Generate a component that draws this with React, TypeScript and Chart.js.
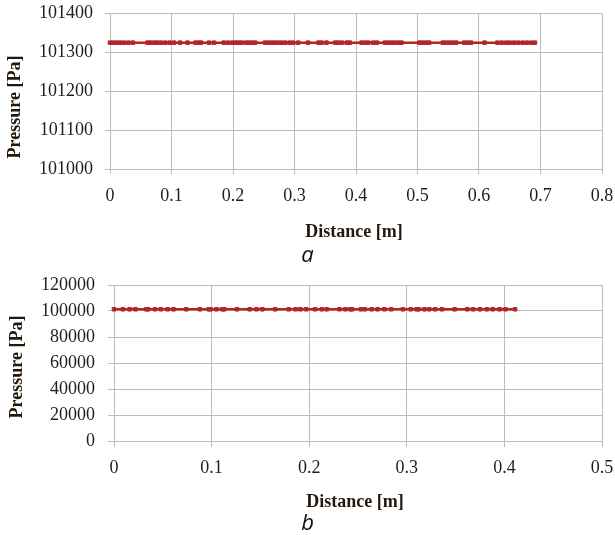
import React, { useEffect, useRef } from "react";
import { Chart, registerables } from "chart.js";

Chart.register(...registerables);

// ---- Data (panel a) ----
const distanceA = [
  0, 0.005, 0.011, 0.017, 0.023, 0.030, 0.037,
  0.061, 0.066, 0.072, 0.077, 0.083, 0.090, 0.097,
  0.104, 0.114, 0.126,
  0.139, 0.144, 0.148,
  0.161, 0.169,
  0.185, 0.192,
  0.199, 0.204, 0.209, 0.214, 0.221, 0.226, 0.231, 0.236,
  0.252, 0.257, 0.263, 0.268, 0.273, 0.279, 0.285, 0.292, 0.298, 0.306,
  0.322,
  0.339, 0.344, 0.352,
  0.366, 0.371, 0.377, 0.385, 0.390,
  0.409, 0.415, 0.420, 0.428, 0.434,
  0.447, 0.452, 0.458, 0.463, 0.469, 0.474,
  0.503, 0.508, 0.514, 0.519,
  0.541, 0.546, 0.552, 0.557, 0.563,
  0.576, 0.582, 0.587,
  0.609,
  0.630, 0.637, 0.644, 0.650, 0.657, 0.664, 0.671, 0.678, 0.685, 0.691,
];
const pressureA = [
  101325, 101325, 101325, 101325, 101325, 101325, 101325, 101325, 101325, 101325,
  101325, 101325, 101325, 101325, 101325, 101325, 101325, 101325, 101325, 101325,
  101325, 101325, 101325, 101325, 101325, 101325, 101325, 101325, 101325, 101325,
  101325, 101325, 101325, 101325, 101325, 101325, 101325, 101325, 101325, 101325,
  101325, 101325, 101325, 101325, 101325, 101325, 101325, 101325, 101325, 101325,
  101325, 101325, 101325, 101325, 101325, 101325, 101325, 101325, 101325, 101325,
  101325, 101325, 101325, 101325, 101325, 101325, 101325, 101325, 101325, 101325,
  101325, 101325, 101325, 101325, 101325, 101325, 101325, 101325, 101325, 101325,
  101325, 101325, 101325, 101325, 101325,
];

// ---- Data (panel b) ----
const distanceB = [
  0, 0.009, 0.016, 0.022, 0.033, 0.035, 0.042, 0.048, 0.055, 0.061,
  0.074, 0.088, 0.097, 0.099, 0.105, 0.111, 0.113, 0.126, 0.139, 0.146,
  0.152, 0.165, 0.179, 0.186, 0.191, 0.197, 0.206, 0.213, 0.218, 0.231,
  0.237, 0.242, 0.244, 0.253, 0.257, 0.264, 0.270, 0.277, 0.284, 0.296,
  0.304, 0.310, 0.312, 0.318, 0.323, 0.329, 0.336, 0.349, 0.362, 0.368,
  0.375, 0.382, 0.388, 0.395, 0.401, 0.411,
];
const pressureB = [
  101325, 101325, 101325, 101325, 101325, 101325, 101325, 101325, 101325, 101325,
  101325, 101325, 101325, 101325, 101325, 101325, 101325, 101325, 101325, 101325,
  101325, 101325, 101325, 101325, 101325, 101325, 101325, 101325, 101325, 101325,
  101325, 101325, 101325, 101325, 101325, 101325, 101325, 101325, 101325, 101325,
  101325, 101325, 101325, 101325, 101325, 101325, 101325, 101325, 101325, 101325,
  101325, 101325, 101325, 101325, 101325, 101325,
];

// ---- Axis ranges / labels ----
const yRangeA = [101000, 101400, 100];
const xRangeA = [0, 0.8, 0.1];
const yRangeB = [0, 120000, 20000];
const xRangeB = [0, 0.5, 0.1];
const xTitle = "Distance [m]";
const yTitle = "Pressure [Pa]";
const panelLabels = ["a", "b"];

const RED = "#b4252b";
const GRID = "#bcbcbc";
const TICK_COLOR = "#1e1e1e";
const TITLE_COLOR = "#24180c";
const SERIF = '"Liberation Serif", "Times New Roman", serif';

const captionPlugin = {
  id: "captions",
  afterDraw(chart: any, _args: any, opts: any) {
    const ctx = chart.ctx;
    ctx.save();
    ctx.fillStyle = TITLE_COLOR;
    ctx.font = `bold 18px ${SERIF}`;
    ctx.textAlign = "center";
    ctx.textBaseline = "alphabetic";
    ctx.translate(opts.yTitleX, opts.yTitleY);
    ctx.rotate(-Math.PI / 2);
    ctx.fillText(opts.yTitle, 0, 0);
    ctx.restore();

    ctx.save();
    ctx.fillStyle = TITLE_COLOR;
    ctx.font = `bold 18px ${SERIF}`;
    ctx.textAlign = "center";
    ctx.textBaseline = "alphabetic";
    ctx.fillText(opts.xTitle, opts.xTitleX, opts.xTitleY);
    ctx.restore();

    ctx.save();
    ctx.fillStyle = "#111";
    ctx.font = 'italic 22px "Open Sans", "Noto Sans", sans-serif';
    ctx.textAlign = "center";
    ctx.textBaseline = "alphabetic";
    ctx.fillText(opts.label, opts.labelX, opts.labelY);
    ctx.restore();
  },
};

const fmtX = (v: any) => {
  const n = Number(v);
  if (Math.abs(n) < 1e-9) return "0";
  return String(parseFloat(n.toFixed(2)));
};

const zeroPad = (s: any) => {
  s.paddingTop = 0;
  s.paddingBottom = 0;
  s.paddingLeft = 0;
  s.paddingRight = 0;
};

function makeConfig(p: any) {
  const pts = p.xs.map((x: number, i: number) => ({ x, y: p.ys[i] }));
  return {
    type: "line",
    data: {
      datasets: [
        {
          data: pts,
          borderColor: RED,
          backgroundColor: RED,
          borderWidth: 2.5,
          pointStyle: "rect",
          pointRadius: 2.5,
          pointBorderWidth: 1,
          pointBorderColor: RED,
          pointBackgroundColor: RED,
          tension: 0,
          clip: false,
        },
      ],
    },
    options: {
      animation: false,
      responsive: false,
      devicePixelRatio: 1,
      layout: { padding: { left: 0, right: p.padRight, top: p.padTop, bottom: 0 } },
      plugins: {
        legend: { display: false },
        tooltip: { enabled: false },
        captions: p.captions,
      },
      scales: {
        x: {
          type: "linear",
          min: p.xRange[0],
          max: p.xRange[1],
          afterFit: (s: any) => {
            s.height = p.xAxisHeight;
            zeroPad(s);
          },
          ticks: {
            stepSize: p.xRange[2],
            color: TICK_COLOR,
            font: { family: SERIF, size: 18 },
            padding: p.xTickPad,
            maxRotation: 0,
            autoSkip: false,
            callback: (v: any) => fmtX(v),
          },
          grid: { color: GRID, lineWidth: 1, tickLength: p.tickLen, drawTicks: true },
          border: { display: true, color: GRID },
          title: { display: false },
        },
        y: {
          type: "linear",
          min: p.yRange[0],
          max: p.yRange[1],
          afterFit: (s: any) => {
            s.width = p.yAxisWidth;
            zeroPad(s);
          },
          ticks: {
            stepSize: p.yRange[2],
            color: TICK_COLOR,
            font: { family: SERIF, size: 18 },
            padding: p.yTickPad,
            autoSkip: false,
            callback: (v: any) => String(Math.round(Number(v))),
          },
          grid: { color: GRID, lineWidth: 1, tickLength: p.tickLen, drawTicks: true },
          border: { display: true, color: GRID },
          title: { display: false },
        },
      },
    },
    plugins: [captionPlugin],
  };
}

function Panel(props: { cfg: any; top: number; height: number }) {
  const ref = useRef<HTMLCanvasElement>(null);
  useEffect(() => {
    if (!ref.current) return;
    const chart = new Chart(ref.current, props.cfg);
    return () => chart.destroy();
  }, []);
  return (
    <canvas
      ref={ref}
      width={615}
      height={props.height}
      style={{ position: "absolute", left: 0, top: props.top, width: 615, height: props.height }}
    />
  );
}

const cfgA = makeConfig({
  xs: distanceA,
  ys: pressureA,
  xRange: xRangeA,
  yRange: yRangeA,
  padRight: 13,
  padTop: 13.5,
  xAxisHeight: 270 - 169,
  yAxisWidth: 110,
  xTickPad: 11,
  yTickPad: 12,
  tickLen: 5,
  captions: {
    yTitle,
    xTitle,
    label: panelLabels[0],
    yTitleX: 20,
    yTitleY: 107,
    xTitleX: 354,
    xTitleY: 237,
    labelX: 307.5,
    labelY: 262,
  },
});

const cfgB = makeConfig({
  xs: distanceB,
  ys: pressureB,
  xRange: xRangeB,
  yRange: yRangeB,
  padRight: 13,
  padTop: 15,
  xAxisHeight: 265 - 171,
  yAxisWidth: 114,
  xTickPad: 10,
  yTickPad: 13,
  tickLen: 6,
  captions: {
    yTitle,
    xTitle,
    label: panelLabels[1],
    yTitleX: 22,
    yTitleY: 97,
    xTitleX: 355,
    xTitleY: 237,
    labelX: 307.5,
    labelY: 260,
  },
});

export default function App() {
  return (
    <div style={{ position: "absolute", left: 0, top: 0, width: 615, height: 535, background: "#fff" }}>
      <Panel cfg={cfgA} top={0} height={270} />
      <Panel cfg={cfgB} top={270} height={265} />
    </div>
  );
}
